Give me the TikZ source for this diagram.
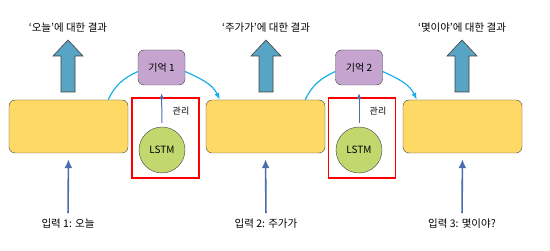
\documentclass[tikz,border=0pt]{standalone}
\usepackage{fontspec}
\setmainfont{Noto Sans CJK KR}
\usepackage{tikz}
\usetikzlibrary{
  calc,
  positioning,
  arrows.meta
}
\definecolor{boxyellow}{HTML}{FFD966}
\definecolor{mempurple}{HTML}{C5A5CF}
\definecolor{lstmgreen}{HTML}{C3D76F}
\definecolor{outblue}{HTML}{58A4C4}
\definecolor{flowcyan}{HTML}{1AAFE6}
\definecolor{inblue}{HTML}{4A6EAE}
\definecolor{edgegray}{HTML}{404040}

\begin{document}
\begin{tikzpicture}[x=1pt,y=-1pt,>=Latex]
  \tikzset{
    cell/.style={
      draw=edgegray, fill=boxyellow, rounded corners=6pt,
      minimum width=119pt, minimum height=53pt, inner sep=0pt
    },
    memory/.style={
      draw=edgegray, fill=mempurple, rounded corners=6pt,
      minimum width=47pt, minimum height=35pt, inner sep=0pt,
      font=\fontsize{10}{12}\selectfont
    },
    lstm/.style={
      circle, draw=edgegray, fill=lstmgreen, minimum size=46pt,
      inner sep=0pt, font=\fontsize{10}{12}\selectfont
    },
    frame/.style={
      draw=red, line width=1.2pt, minimum width=67pt, minimum height=80pt
    },
    manage/.style={
      inblue, line width=1pt, -{Latex[length=6pt,width=5pt]},
      shorten <=4pt, shorten >=8pt
    },
    bigup/.style={fill=outblue, draw=edgegray, line width=0.6pt},
    flow/.style={flowcyan, line width=1.2pt, -{Latex[length=7pt]}},
    feed/.style={inblue, line width=1.6pt, -{Latex[length=9pt,width=8pt]}},
    label/.style={font=\fontsize{10.5}{12}\selectfont, inner sep=1pt},
    % every node/.style={font=\large}
  }
\useasboundingbox (0,0) rectangle (550,251);

% time steps
\node[cell] (box1) at (68.5,126.5) {};
\node[cell] (box2) at (265.5,126.5) {};
\node[cell] (box3) at (462.5,126.5) {};

% lstm managers
\node[frame] (frame1) at (165.5,138) {};
\node[frame] (frame2) at (362,138) {};
\node[lstm] (lstm1) at (162,150) {LSTM};
\node[lstm] (lstm2) at (359,150) {LSTM};

\node[memory] (mem1) at (161.5,67.5) {기억 1};
\node[memory] (mem2) at (359,67.5) {기억 2};

\draw[manage] (lstm1.north) -- (mem1.south);
\draw[manage] (lstm2.north) -- (mem2.south);
\node[font=\fontsize{9}{11}\selectfont] (keep1) at (181,111) {관리};
\node[font=\fontsize{9}{11}\selectfont] (keep2) at (378,111) {관리};

% memory flow
\draw[flowcyan, line width=1.2pt] ([xshift=-20pt]box1.north east)
  to[out=65,in=205] ([yshift=-4pt]mem1.west);
\draw[flow] ([yshift=-4pt]mem1.east) to[out=-25,in=115] ([xshift=14pt]box2.north west);
\draw[flowcyan, line width=1.2pt] ([xshift=-20pt]box2.north east)
  to[out=65,in=205] ([yshift=-4pt]mem2.west);
\draw[flow] ([yshift=-4pt]mem2.east) to[out=-25,in=115] ([xshift=14pt]box3.north west);

% outputs
\foreach \x in {68,266,462}
  \draw[bigup] (\x-7,92) -- (\x-7,56) -- (\x-15,56) -- (\x,40)
    -- (\x+15,56) -- (\x+7,56) -- (\x+7,92) -- cycle;
\node[label] (res1) at (68,28) {‘오늘’에 대한 결과};
\node[label] (res2) at (266,28) {‘주가가’에 대한 결과};
\node[label] (res3) at (462,28) {‘몇이야’에 대한 결과};

% inputs
\node[label] (in1) at (68,224) {입력 1: 오늘};
\node[label] (in2) at (266,224) {입력 2: 주가가};
\node[label] (in3) at (462,224) {입력 3: 몇이야?};

\draw[feed, shorten <=5pt, shorten >=6pt] (in1.north) -- (box1.south);
\draw[feed, shorten <=5pt, shorten >=6pt] (in2.north) -- (box2.south);
\draw[feed, shorten <=5pt, shorten >=6pt] (in3.north) -- (box3.south);

\end{tikzpicture}
\end{document}
